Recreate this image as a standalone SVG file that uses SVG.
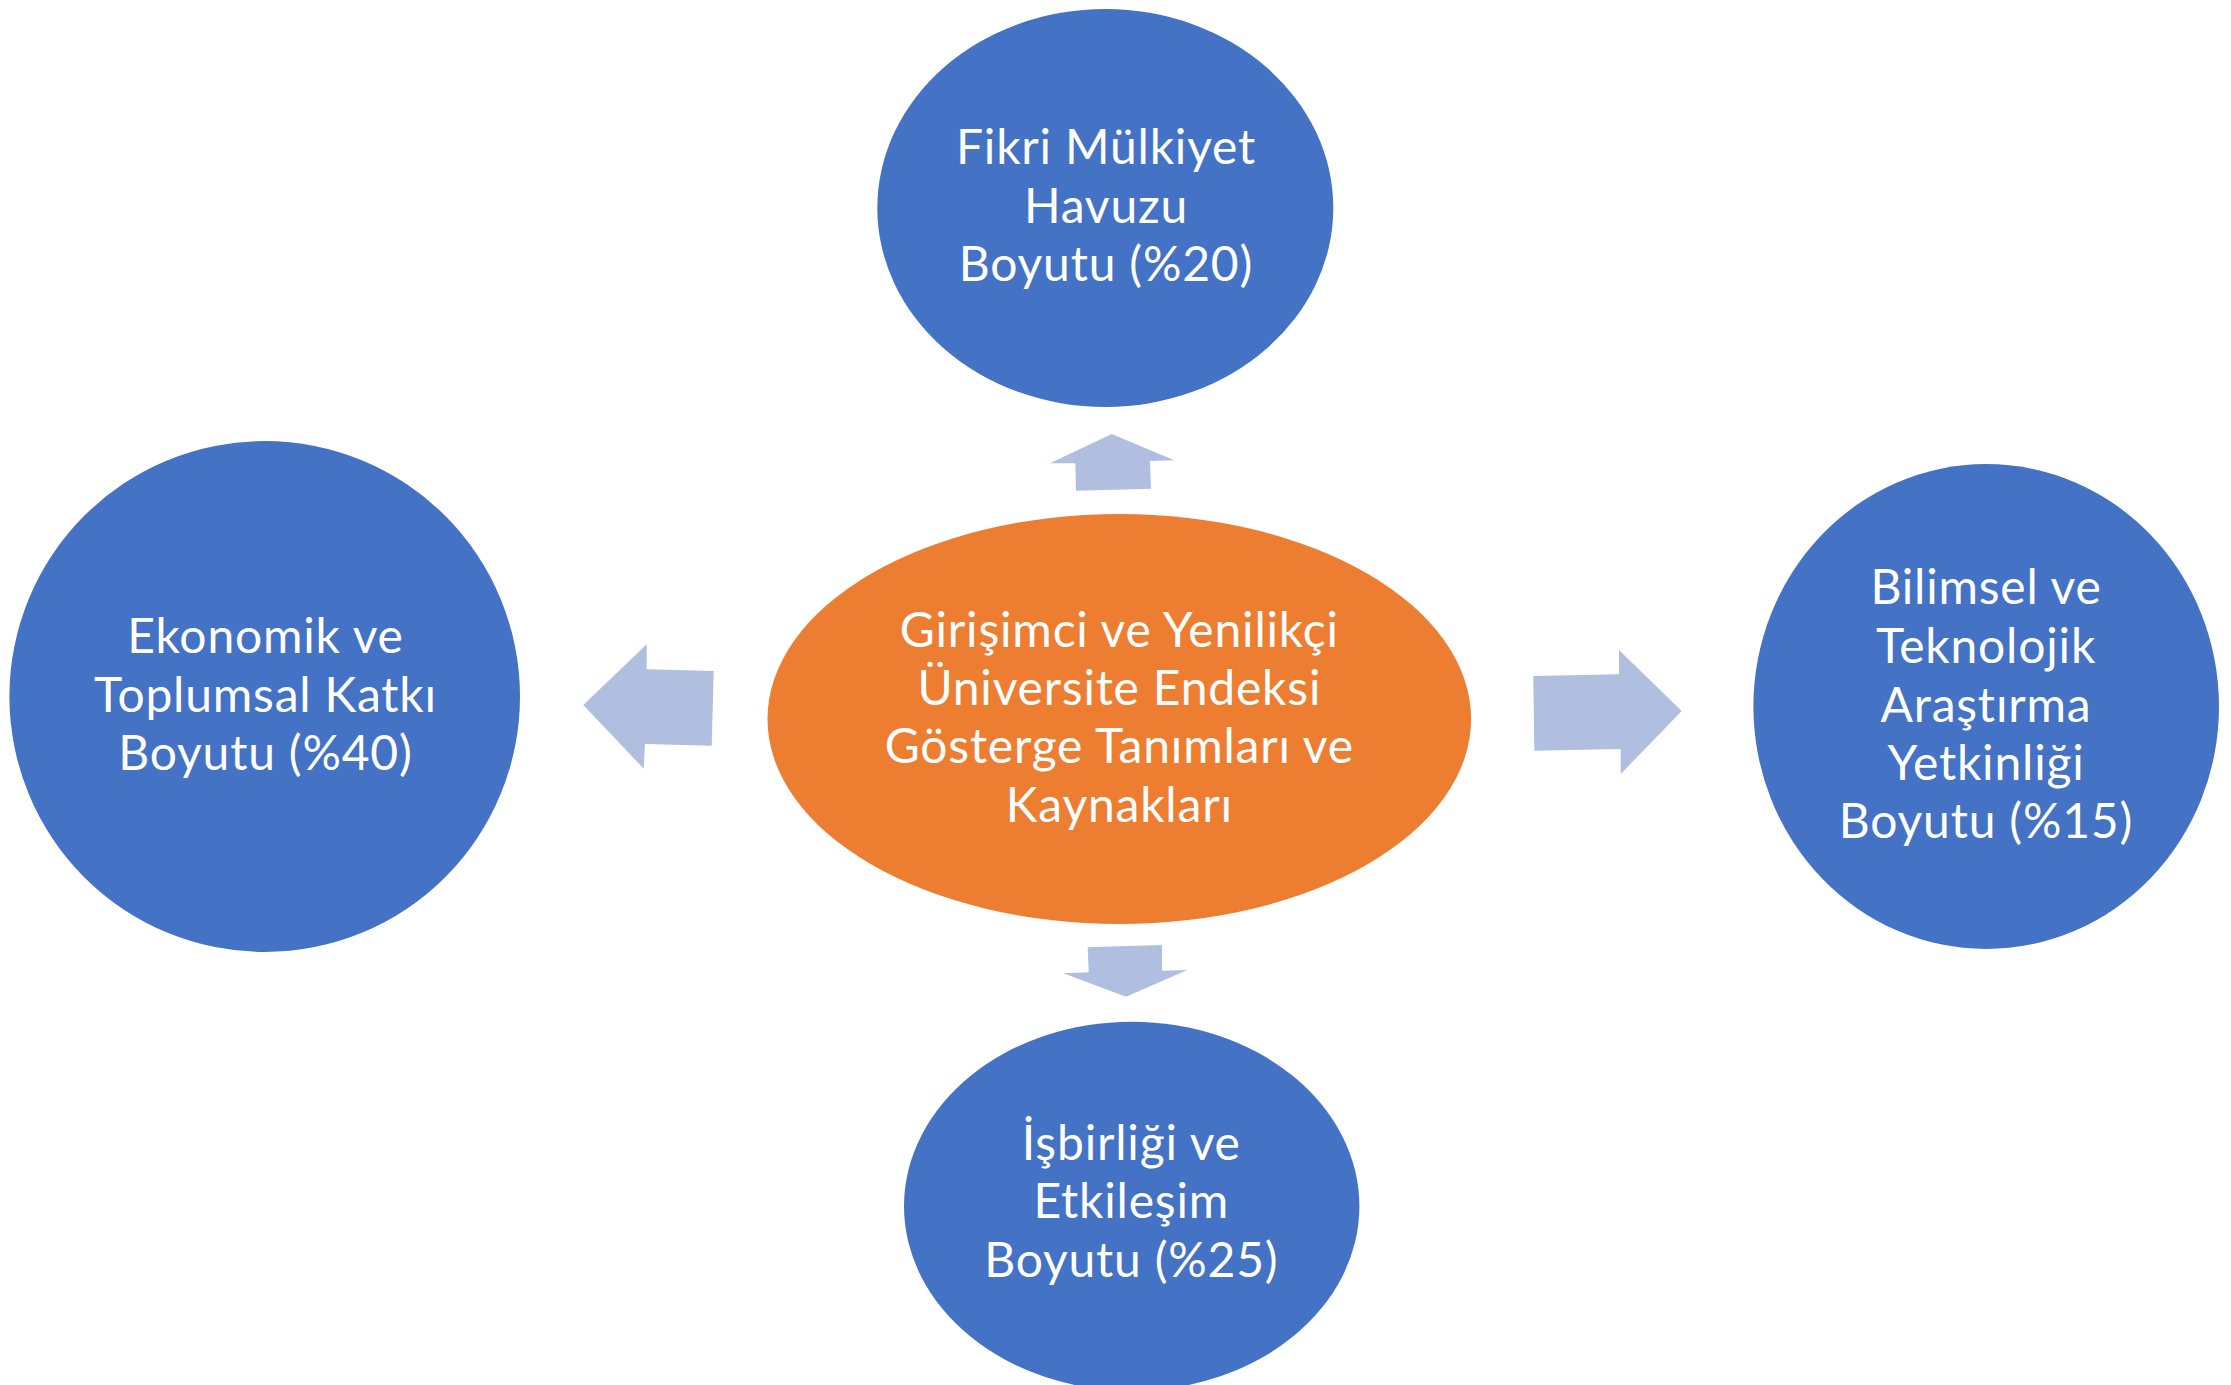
<svg xmlns="http://www.w3.org/2000/svg" width="2231" height="1385" viewBox="0 0 2231 1385">
<style>
.blue{fill:#4472C4}
.orange{fill:#ED7D31}
.arr{fill:#B0BEDF}
.t{font-family:Lato,"Open Sans","Liberation Sans",sans-serif;font-size:48px;letter-spacing:0.8px;fill:#FFFFFF;text-anchor:middle}
</style>
<rect width="2231" height="1385" fill="#FFFFFF"/>
<g id="connectors">
<path class="arr" d="M1111.7,434 L1174.3,460.3 L1150,461 L1151,488.7 L1076,490.7 L1075.3,463.3 L1050,463.3 Z"/>
<path class="arr" d="M583.3,705 L646.7,644.3 L646.7,669.3 L713.7,671 L711.7,745.7 L645,744 L643.7,768.7 Z"/>
<path class="arr" d="M1681.7,711 L1619,650 L1619,674.3 L1533.3,676 L1534.3,750.7 L1620.7,749 L1620.7,774 Z"/>
<path class="arr" d="M1126,996.7 L1187.3,970 L1162,970.7 L1162,945 L1087.7,947.3 L1088.7,972.3 L1063.3,973.3 Z"/>
</g>
<g id="node-top">
<ellipse class="blue" cx="1105.3" cy="208" rx="228" ry="199"/>
<text class="t" x="1106" y="164">Fikri Mülkiyet</text>
<text class="t" x="1106" y="222.7">Havuzu</text>
<text class="t" x="1106" y="281">Boyutu (%20)</text>
</g>
<g id="node-left">
<ellipse class="blue" cx="264.7" cy="696.5" rx="255.3" ry="255.5"/>
<text class="t" x="265.5" y="653">Ekonomik ve</text>
<text class="t" x="265.5" y="711.5">Toplumsal Katkı</text>
<text class="t" x="265.5" y="769.8">Boyutu (%40)</text>
</g>
<g id="node-right">
<ellipse class="blue" cx="1986.2" cy="706.5" rx="232.8" ry="242.5"/>
<text class="t" x="1986" y="604.3">Bilimsel ve</text>
<text class="t" x="1986" y="663.3">Teknolojik</text>
<text class="t" x="1986" y="721.7">Araştırma</text>
<text class="t" x="1986" y="780">Yetkinliği</text>
<text class="t" x="1986" y="838.3">Boyutu (%15)</text>
</g>
<g id="node-bottom">
<ellipse class="blue" cx="1131.7" cy="1206.3" rx="227.7" ry="184.6"/>
<text class="t" x="1131.3" y="1160">İşbirliği ve</text>
<text class="t" x="1131.3" y="1218.3">Etkileşim</text>
<text class="t" x="1131.3" y="1276.7">Boyutu (%25)</text>
</g>
<g id="node-center">
<ellipse class="orange" cx="1119.3" cy="719" rx="351.8" ry="205"/>
<text class="t" x="1119.3" y="646.7">Girişimci ve Yenilikçi</text>
<text class="t" x="1119.3" y="705">Üniversite Endeksi</text>
<text class="t" x="1119.3" y="763.3">Gösterge Tanımları ve</text>
<text class="t" x="1119.3" y="821.7">Kaynakları</text>
</g>
</svg>
